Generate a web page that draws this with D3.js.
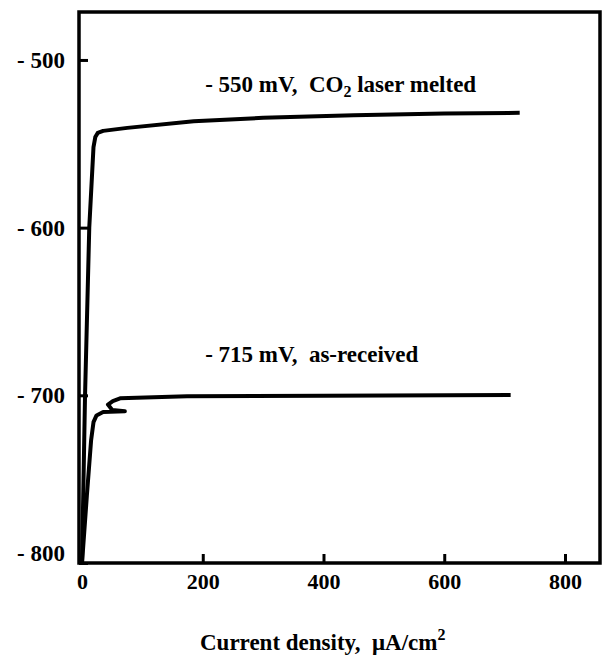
<!DOCTYPE html>
<html>
<head>
<meta charset="utf-8">
<script src="https://cdn.jsdelivr.net/npm/d3@7"></script>
<style>
  body { margin: 0; background: #fff; }
  text { font-family: "Liberation Serif", "Times New Roman", serif; fill: #000; white-space: pre; }
</style>
</head>
<body>
<div id="chart"></div>
<script>
// Data: current density (uA/cm2) vs potential (mV)
const laserX = [0, 5, 12, 19, 22, 26, 35, 75, 185, 300, 450, 600, 725];
const laserY = [-800, -700, -600, -552, -546, -543.5, -542.3, -540.5, -536.5, -534.5, -533, -532, -531.5];

const asRecX = [0, 8, 15, 19, 24, 35, 71, 50, 43, 51, 63, 174, 400, 710];
const asRecY = [-800, -760, -727, -716, -712, -710, -709.5, -708.7, -705.5, -703.4, -701.8, -700.6, -700.2, -699.8];

const xTicks = [0, 200, 400, 600, 800];
const yTicks = [-500, -600, -700, -800];

const labelText = ["- 550 mV,\u00a0\u00a0CO", "- 715 mV,\u00a0\u00a0as-received"];
const labelX = [204, 204];
const labelY = [-519, -680];

// Layout
const size = { width: 607, height: 668 };
const plot = { left: 79, right: 600, top: 12, bottom: 563 };

const svg = d3.select("#chart")
  .append("svg")
  .attr("width", size.width)
  .attr("height", size.height);

// Scales
const xScale = d3.scaleLinear([-5, 858], [plot.left, plot.right]);
const yScale = d3.scaleLinear([-800, -471.4], [plot.bottom, plot.top]);

// Curves
const line = d3.line().x((d) => xScale(d[0])).y((d) => yScale(d[1]));
const series = [
  d3.zip(laserX, laserY),
  d3.zip(asRecX, asRecY)
];

svg.append("g")
  .selectAll("path")
  .data(series)
  .join("path")
  .attr("d", line)
  .attr("fill", "none")
  .attr("stroke", "#000")
  .attr("stroke-width", 4)
  .attr("stroke-linejoin", "round");

// Axes
const xAxis = (g) =>
  g.attr("transform", `translate(0,${plot.bottom})`)
    .call(d3.axisBottom(xScale).tickValues(xTicks).tickSizeInner(-9).tickSizeOuter(0).tickPadding(10))
    .call((g) => g.select(".domain").remove())
    .call((g) => g.selectAll(".tick line").attr("stroke-width", 3))
    .call((g) => g.selectAll(".tick text").attr("font-size", 22).attr("font-weight", "bold"));

const yAxis = (g) =>
  g.attr("transform", `translate(${plot.left},0)`)
    .call(d3.axisLeft(yScale).tickValues(yTicks).tickSizeInner(-9).tickSizeOuter(0).tickPadding(14)
      .tickFormat((d) => "- " + Math.abs(d)))
    .call((g) => g.select(".domain").remove())
    .call((g) => g.selectAll(".tick line").attr("stroke-width", 3))
    .call((g) => g.selectAll(".tick text").attr("font-size", 23).attr("font-weight", "bold"))
    .call((g) => g.selectAll(".tick text").filter((d) => d === -800).attr("dy", "-0.12em"));

svg.append("g").call(xAxis);
svg.append("g").call(yAxis);

// Frame
svg.append("rect")
  .attr("x", plot.left)
  .attr("y", plot.top)
  .attr("width", plot.right - plot.left)
  .attr("height", plot.bottom - plot.top)
  .attr("fill", "none")
  .attr("stroke", "#000")
  .attr("stroke-width", 3.5);

// Curve labels
const labels = svg.append("g")
  .attr("font-size", 23)
  .attr("font-weight", "bold");

labels.selectAll("text")
  .data(labelText)
  .join("text")
  .attr("x", (d, i) => xScale(labelX[i]))
  .attr("y", (d, i) => yScale(labelY[i]))
  .each(function (d, i) {
    const t = d3.select(this);
    t.append("tspan").text(d);
    if (i === 0) {
      t.append("tspan").attr("font-size", 16).attr("dy", 5).text("2");
      t.append("tspan").attr("dy", -5).text(" laser melted");
    }
  });

// Axis title
const title = svg.append("text")
  .attr("x", 200)
  .attr("y", 650)
  .attr("font-size", 23)
  .attr("font-weight", "bold");
title.append("tspan").text("Current density,\u00a0\u00a0\u03bcA/cm");
title.append("tspan").attr("font-size", 16).attr("dy", -10).text("2");
</script>
</body>
</html>
